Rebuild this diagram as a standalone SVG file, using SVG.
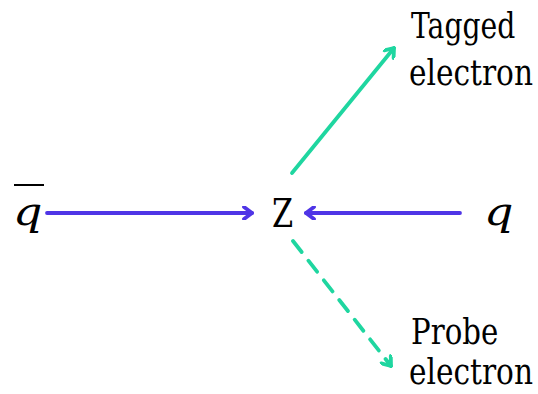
<svg xmlns="http://www.w3.org/2000/svg" width="538" height="394" viewBox="0 0 538 394">
<style>
text{font-family:'DejaVu Serif',serif;fill:#000}
.math{font-style:italic}
.blue{stroke:#4F35E6;stroke-width:3.8;fill:none;stroke-linecap:round}
.teal{stroke:#1FD6A0;stroke-width:3.8;fill:none;stroke-linecap:round}
</style>
<defs>
<marker id="hb" viewBox="0 0 14 14" refX="12" refY="7" markerWidth="14" markerHeight="14" markerUnits="userSpaceOnUse" orient="auto">
<polyline points="4,1 12,7 4,13" fill="none" stroke="#4F35E6" stroke-width="3.8" stroke-linecap="round" stroke-linejoin="round"/>
</marker>
<marker id="ht" viewBox="0 0 14 14" refX="12" refY="7" markerWidth="14" markerHeight="14" markerUnits="userSpaceOnUse" orient="auto">
<polyline points="4,1 12,7 4,13" fill="none" stroke="#1FD6A0" stroke-width="3.8" stroke-linecap="round" stroke-linejoin="round"/>
</marker>
</defs>
<g id="qbar">
<text class="math" transform="translate(13,225) scale(1.15,1)" font-size="40">q</text>
<line x1="14" y1="185" x2="44" y2="185" stroke="#000" stroke-width="2"/>
</g>
<g id="z">
<text transform="translate(272,227) scale(0.76,1)" font-size="40">Z</text>
</g>
<g id="q">
<text class="math" transform="translate(484,225) scale(1.15,1)" font-size="40">q</text>
</g>
<g id="tagged">
<text transform="translate(411,38) scale(0.806,1)" font-size="35">Tagged</text>
<text transform="translate(409,85) scale(0.846,1)" font-size="35">electron</text>
</g>
<g id="probe">
<text transform="translate(411,344) scale(0.835,1)" font-size="35">Probe</text>
<text transform="translate(409,384) scale(0.846,1)" font-size="35">electron</text>
</g>
<g id="connectors">
<line class="blue" x1="47" y1="213" x2="252" y2="213" marker-end="url(#hb)"/>
<line class="blue" x1="460" y1="213" x2="306" y2="213" marker-end="url(#hb)"/>
<line class="teal" x1="292" y1="173" x2="394" y2="48" marker-end="url(#ht)"/>
<line class="teal" x1="293" y1="241" x2="391" y2="366" stroke-dasharray="14,11" marker-end="url(#ht)"/>
</g>
</svg>
